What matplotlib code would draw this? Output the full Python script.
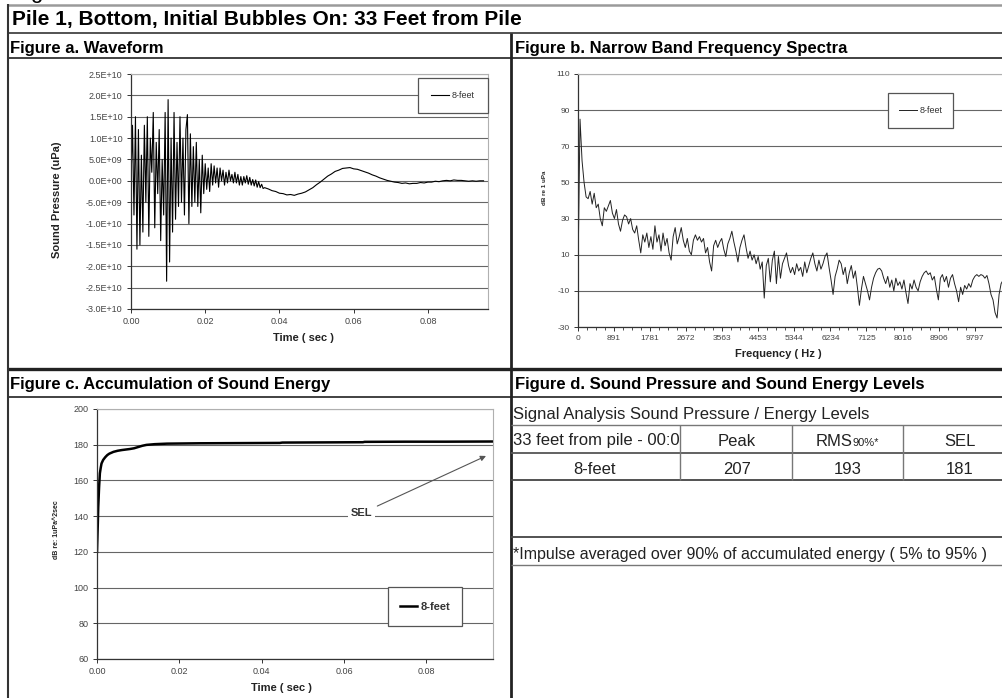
import numpy as np
import matplotlib
matplotlib.use("Agg")
import matplotlib.pyplot as plt
from matplotlib.patches import Rectangle
from matplotlib.lines import Line2D

plt.rcParams['font.family'] = ['Liberation Sans', 'DejaVu Sans']
plt.rcParams['axes.unicode_minus'] = False

W, H = 1003, 698

# ---------------- data ----------------
page_title = "Pile 1, Bottom, Initial Bubbles On: 33 Feet from Pile"
title_a = "Figure a. Waveform"
title_b = "Figure b. Narrow Band Frequency Spectra"
title_c = "Figure c. Accumulation of Sound Energy"
title_d = "Figure d. Sound Pressure and Sound Energy Levels"
series_name = "8-feet"

# waveform (units of 1E9 uPa); fast part sampled every 0.4 ms from t=0
wave_fast_dt = 0.0004
wave_fast_e9 = [0, 13, -8, 15, -16, 12, -15, 6, -12, 13, -5, 15, -13, 10, 2, 16,
                -11, 9, -3, 12, -14, 5, -8, 16, -23.5, 19, -19, 10, -12, 16, -9, 9,
                -6, 15, -5, 10, -8, 12, 15.5, -10, 11, -6, 8, -5, 9, -6, 5, -7.5,
                6, -3, 4, -2, 3, -2.5, 4, -1, 3.5, -0.5, 3, -1.5, 3, 0, 2.5, -1,
                2, -0.5, 2.5, 0, 1.5, -0.5, 2, -0.5, 1.5, -1, 1, -1, 1, -0.5, 1.2,
                -0.8, 0.8, -1, 0.3, -1.2, 0.2, -1.5, -0.2, -1.6, -0.8, -1.8]
# slow part sampled every 1 ms from t=0.036
wave_slow_t0 = 0.036
wave_slow_dt = 0.001
wave_slow_e9 = [-1.6, -1.9, -2.3, -2.5, -2.9, -3.0, -3.3, -3.2, -3.4, -3.1, -2.9, -2.6,
                -2.1, -1.6, -0.9, -0.3, 0.4, 1.1, 1.6, 2.2, 2.5, 2.9, 3.0, 3.1, 2.8,
                2.7, 2.4, 2.1, 1.8, 1.4, 1.1, 0.7, 0.4, 0.1, -0.1, -0.3, -0.4, -0.6,
                -0.5, -0.7, -0.6, -0.6, -0.4, -0.5, -0.3, -0.3, -0.1, -0.2, 0.0, 0.1,
                0.0, 0.2, 0.1, 0.1, 0.0, -0.1, 0.0, -0.1, 0.0, 0.0]
a_yticks = [2.5e10, 2.0e10, 1.5e10, 1.0e10, 5.0e9, 0.0, -5.0e9, -1.0e10, -1.5e10,
            -2.0e10, -2.5e10, -3.0e10]
a_yticklabels = ["2.5E+10", "2.0E+10", "1.5E+10", "1.0E+10", "5.0E+09", "0.0E+00",
                 "-5.0E+09", "-1.0E+10", "-1.5E+10", "-2.0E+10", "-2.5E+10", "-3.0E+10"]
time_ticks = [0.00, 0.02, 0.04, 0.06, 0.08]
time_ticklabels = ["0.00", "0.02", "0.04", "0.06", "0.08"]
time_max = 0.0962

# narrow band spectrum, dB re 1 uPa, every 50 Hz from 0 Hz
spec_df = 50
spec_db = [0, 85, 62, 50, 42, 41, 45, 38, 44, 36, 38, 30, 26, 36, 34, 37, 40, 33, 30, 35,
           27, 23, 29, 32, 31, 27, 30, 24, 22, 26, 18, 11, 21, 17, 22, 14, 20, 13, 26, 17,
           21, 12, 22, 15, 19, 11, 7, 20, 25, 16, 20, 25, 18, 14, 19, 12, 10, 18, 21, 18,
           20, 17, 19, 11, 14, 6, 1, 15, 18, 14, 17, 19, 13, 9, 16, 19, 23, 17, 12, 6,
           14, 18, 21, 14, 8, 12, 7, 10, 5, 9, 2, 6, -14, 4, 8, -5, 7, 12, -6, 9,
           -3, 5, 8, 11, 4, 0, 3, -1, 5, 1, 3, -2, 6, 0, 4, 8, 11, 5, 1, 7,
           2, 5, 9, 11, 3, -4, -12, -2, 2, 7, 5, -1, 3, -6, 0, 4, -3, 1, -8, -18,
           -9, -2, -6, -10, -15, -8, -3, 0, 2, 2.5, 1, -3, -6, -2, -8, -4, -10, -3, -7, -5,
           -9, -4, -11, -17, -6, -9, -4, -8, -10, -5, -2, 0, 1, -1, 0, -4, -2, -9, -15, -3,
           -1, -5, -2, -8, -3, -1, -6, -10, -16, -8, -12, -7, -9, -6, -8, -4, -2, -1, -2, -1,
           -1.5, -3, -1.5, -6, -12, -15, -22, -25, -12, -6, -4, -5, -6]
freq_ticks = [0, 891, 1781, 2672, 3563, 4453, 5344, 6234, 7125, 8016, 8906, 9797]
freq_max = 10620
b_yticks = [-30, -10, 10, 30, 50, 70, 90, 110]

# accumulated sound energy
sel_t = [0.0, 0.0001, 0.0002, 0.0003, 0.0005, 0.0007, 0.0009, 0.0011, 0.0015, 0.0020,
         0.0025, 0.0030, 0.0040, 0.0050, 0.0060, 0.0070, 0.0080, 0.0090, 0.0100, 0.0110,
         0.0120, 0.0140, 0.0170, 0.0250, 0.0350, 0.0444, 0.0450, 0.0550, 0.0646, 0.0650,
         0.0750, 0.0850, 0.0962]
sel_db = [120, 128, 136, 145, 156, 164, 167, 169.5, 171.5, 173, 174.2, 175, 176, 176.6,
          177, 177.3, 177.6, 178, 178.7, 179.4, 179.9, 180.3, 180.6, 180.8, 180.9, 181.0,
          181.2, 181.3, 181.4, 181.6, 181.7, 181.7, 181.8]
c_yticks = [60, 80, 100, 120, 140, 160, 180, 200]

# table
table_caption = "Signal Analysis Sound Pressure / Energy Levels"
table_header = ["33 feet from pile - 00:0", "Peak", "RMS", "SEL"]
table_row = ["8-feet", "207", "193", "181"]
footnote = "*Impulse averaged over 90% of accumulated energy ( 5% to 95% )"

# ---------------- figure ----------------
fig = plt.figure(figsize=(W / 100, H / 100), dpi=100)
bg = fig.add_axes([0, 0, 1, 1])
bg.set_xlim(0, W)
bg.set_ylim(H, 0)
bg.axis('off')
bg.set_zorder(0)


def fax(x0, y0, x1, y1):
    return [x0 / W, 1 - y1 / H, (x1 - x0) / W, (y1 - y0) / H]


def hl(y, x0, x1, lw=1.2, c='#333333'):
    bg.add_line(Line2D([x0, x1], [y, y], lw=lw, color=c, solid_capstyle='butt'))


def vl(x, y0, y1, lw=1.2, c='#333333'):
    bg.add_line(Line2D([x, x], [y0, y1], lw=lw, color=c, solid_capstyle='butt'))


# frame
hl(4.5, 8, W, lw=1.8, c='#9a9a9a')
hl(33, 8, W, lw=1.3, c='#444444')
hl(58, 8, W, lw=1.3, c='#333333')
hl(369, 8, W, lw=2.4, c='#222222')
hl(397, 8, W, lw=1.3, c='#333333')
vl(8, 4, H, lw=1.5, c='#333333')
vl(511, 33, H, lw=2.0, c='#222222')
hl(425, 511, W, lw=1.0, c='#777777')
hl(453, 511, W, lw=1.3, c='#555555')
hl(480, 511, W, lw=1.3, c='#444444')
hl(537, 511, W, lw=1.3, c='#444444')
hl(565, 511, W, lw=1.0, c='#777777')
for xc in (680, 792, 903):
    vl(xc, 425, 480, lw=1.0, c='#777777')

bg.text(30, -2, "g", fontsize=16, va='baseline', ha='left')
bg.text(12, 20, page_title, fontsize=15, fontweight='bold', va='center', ha='left')
bg.text(10, 48, title_a, fontsize=12, fontweight='bold', va='center')
bg.text(515, 48, title_b, fontsize=12, fontweight='bold', va='center')
bg.text(10, 385, title_c, fontsize=12, fontweight='bold', va='center')
bg.text(515, 385, title_d, fontsize=12, fontweight='bold', va='center')

# table
tc = '#222222'
bg.text(513, 414, table_caption, fontsize=12, va='center', color=tc)
bg.text(513, 441, table_header[0], fontsize=12, va='center', color=tc)
bg.text(737, 441, table_header[1], fontsize=12, va='center', ha='center', color=tc)
t_rms = bg.text(816, 441, table_header[2], fontsize=12, va='center', ha='left', color=tc)
bg.annotate("90%*", xy=(1, 0), xycoords=t_rms, xytext=(0, 0), textcoords='offset points',
            fontsize=8, va='bottom', ha='left', color=tc)
bg.text(960, 441, table_header[3], fontsize=12, va='center', ha='center', color=tc)
for xc, s in zip((595, 737, 848, 960), table_row):
    bg.text(xc, 469, s, fontsize=12, va='center', ha='center', color=tc)
bg.text(513, 554, footnote, fontsize=11.5, va='center', color=tc)

grid_c = '#666666'
tick_c = '#444444'


def style(ax, fs):
    ax.set_facecolor('none')
    ax.set_zorder(1)
    for s in ('top', 'right'):
        ax.spines[s].set_color('#b0b0b0')
        ax.spines[s].set_linewidth(0.8)
    for s in ('left', 'bottom'):
        ax.spines[s].set_color('#333333')
        ax.spines[s].set_linewidth(0.9)
    ax.tick_params(direction='out', length=3, width=0.7, colors='#333333',
                   labelsize=fs, labelcolor=tick_c, pad=3)
    ax.grid(axis='y', color=grid_c, lw=0.8)
    ax.grid(axis='x', visible=False)
    ax.set_axisbelow(True)


def box_legend(ax, line, x0, y0, x1, y1, fs, weight='normal', hl_len=2.0):
    ax.add_patch(Rectangle((x0, y0), x1 - x0, y1 - y0, transform=bg.transData,
                           facecolor='white', edgecolor='#555555', lw=0.9,
                           clip_on=False, zorder=4))
    leg = ax.legend([line], [series_name], loc='center', frameon=False,
                    bbox_to_anchor=((x0 + x1) / 2 / W, 1 - (y0 + y1) / 2 / H),
                    bbox_transform=fig.transFigure, fontsize=fs,
                    handlelength=hl_len, handletextpad=0.3, borderpad=0)
    for t in leg.get_texts():
        t.set_fontweight(weight)
        t.set_color('#333333')
    leg.set_zorder(5)


# ---- Figure a ----
ax_a = fig.add_axes(fax(131, 74, 488, 309))
style(ax_a, 6.5)
t_fast = np.arange(len(wave_fast_e9)) * wave_fast_dt
t_slow = wave_slow_t0 + np.arange(len(wave_slow_e9)) * wave_slow_dt
t_wave = np.concatenate([t_fast, t_slow])
v_wave = np.concatenate([wave_fast_e9, wave_slow_e9]) * 1e9
la, = ax_a.plot(t_wave, v_wave, color='black', lw=0.8)
ax_a.set_xlim(0, time_max)
ax_a.set_ylim(-3.0e10, 2.5e10)
ax_a.set_yticks(a_yticks)
ax_a.set_yticklabels(a_yticklabels)
ax_a.set_xticks(time_ticks)
ax_a.set_xticklabels(time_ticklabels)
box_legend(ax_a, la, 418, 78, 488, 113, 6.5)
bg.text(57, 200, "Sound Pressure (uPa)", rotation=90, fontsize=8, fontweight='bold',
        ha='center', va='center', color='#222222')
bg.text(303, 338, "Time ( sec )", fontsize=8, fontweight='bold', ha='center',
        va='center', color='#222222')

# ---- Figure b ----
ax_b = fig.add_axes(fax(578, 74, W + 5, 327))
style(ax_b, 6)
f_spec = np.arange(len(spec_db)) * spec_df
lb, = ax_b.plot(f_spec, spec_db, color='#222222', lw=0.7)
ax_b.set_xlim(0, freq_max)
ax_b.set_ylim(-30, 110)
ax_b.set_yticks(b_yticks)
ax_b.set_xticks(freq_ticks)
ax_b.set_xticklabels([str(v) for v in freq_ticks])
minor = []
for a, b in zip(freq_ticks[:-1], freq_ticks[1:]):
    minor += list(np.linspace(a, b, 5)[1:-1])
ax_b.set_xticks(minor, minor=True)
ax_b.tick_params(which='minor', direction='out', length=2, width=0.6, colors='#333333')
box_legend(ax_b, lb, 888, 93, 953, 128, 6.5)
bg.text(545, 188, "dB re 1 uPa", rotation=90, fontsize=4.5, fontweight='bold',
        ha='center', va='center', color='#222222')
bg.text(778, 354, "Frequency ( Hz )", fontsize=8, fontweight='bold', ha='center',
        va='center', color='#222222')

# ---- Figure c ----
ax_c = fig.add_axes(fax(97, 409, 493, 659))
style(ax_c, 6.5)
lc, = ax_c.plot(sel_t, sel_db, color='black', lw=1.8)
ax_c.set_xlim(0, time_max)
ax_c.set_ylim(60, 200)
ax_c.set_yticks(c_yticks)
ax_c.set_xticks(time_ticks)
ax_c.set_xticklabels(time_ticklabels)
ax_c.annotate("SEL", xy=(0.0945, 173.7), xytext=(0.0642, 141.5),
              fontsize=8, fontweight='bold', color='#333333', ha='center', va='center',
              bbox=dict(boxstyle='square,pad=0.25', fc='white', ec='none'),
              arrowprops=dict(arrowstyle='-|>', color='#555555', lw=0.8,
                              mutation_scale=8, shrinkA=2, shrinkB=0))
box_legend(ax_c, lc, 388, 587, 462, 626, 8, weight='bold', hl_len=1.6)
bg.text(57, 530, "dB re: 1uPa^2sec", rotation=90, fontsize=5, fontweight='bold',
        ha='center', va='center', color='#222222')
bg.text(281, 688, "Time ( sec )", fontsize=8, fontweight='bold', ha='center',
        va='center', color='#222222')

fig.savefig("out.png", dpi=100)
